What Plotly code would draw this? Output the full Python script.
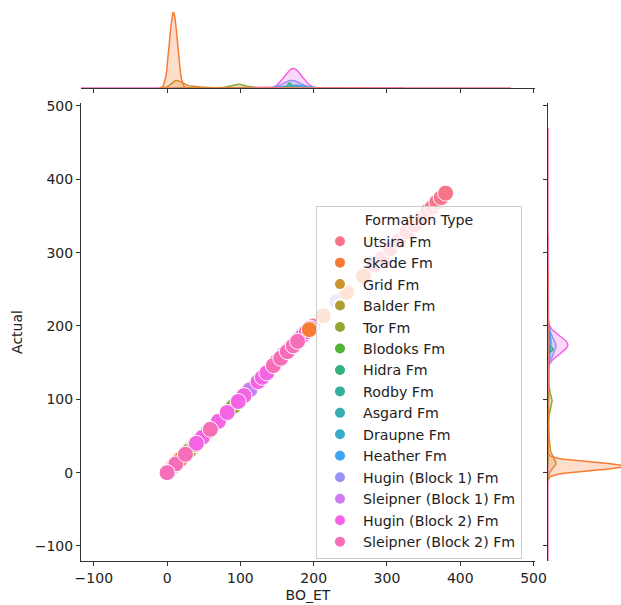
import math
import numpy as np
import plotly.graph_objects as go

# ---------------- data ----------------
formations = ["Utsira Fm", "Skade Fm", "Grid Fm", "Balder Fm", "Tor Fm",
              "Blodoks Fm", "Hidra Fm", "Rodby Fm", "Asgard Fm", "Draupne Fm",
              "Heather Fm", "Hugin (Block 1) Fm", "Sleipner (Block 1) Fm",
              "Hugin (Block 2) Fm", "Sleipner (Block 2) Fm"]

utsira_bo = [199, 282, 293, 304, 316, 327, 338, 348, 356, 362, 368, 374, 380]
utsira_actual = [200, 283, 292, 305, 316, 328, 338, 347, 357, 362, 369, 375, 381]
utsira_n = [1, 1, 1, 1, 1, 1, 1, 1, 1, 1, 1, 1, 1]

skade_bo = [0, 2, 4, 6, 8, 10, 12, 14, 16, 18, 194, 213, 245, 268]
skade_actual = [0, 2, 4, 6, 8, 10, 12, 14, 16, 18, 195, 214, 246, 268]
skade_n = [20, 52, 104, 163, 200, 190, 141, 81, 36, 13, 1, 1, 1, 1]

grid_bo = [4, 8, 12, 16, 20, 25, 30, 35, 40, 45, 50, 55, 60]
grid_actual = [4, 8, 12, 16, 20, 25, 30, 35, 40, 45, 50, 55, 60]
grid_n = [8, 30, 38, 30, 19, 13, 10, 8, 7, 5, 3, 3, 2]

balder_bo = [30, 38, 48, 59, 70]
balder_actual = [30, 38, 48, 59, 70]
balder_n = [4, 7, 8, 6, 3]

tor_bo = [82, 90, 97, 105, 113, 136, 150, 164]
tor_actual = [82, 90, 97, 105, 113, 136, 150, 164]
tor_n = [10, 25, 35, 20, 8, 2, 2, 2]

blodoks_bo = [124, 136, 150, 164, 177]
blodoks_actual = [124, 136, 151, 165, 178]
blodoks_n = [3, 4, 6, 6, 4]

hidra_bo = [164, 166, 168, 170]
hidra_actual = [165, 167, 169, 171]
hidra_n = [6, 10, 10, 6]

rodby_bo = [155, 165, 172, 180, 188]
rodby_actual = [156, 166, 173, 181, 189]
rodby_n = [3, 6, 8, 5, 3]

asgard_bo = [160, 168, 175, 182]
asgard_actual = [161, 169, 176, 183]
asgard_n = [4, 6, 6, 3]

draupne_bo = [155, 165, 172, 180, 190]
draupne_actual = [156, 166, 173, 181, 191]
draupne_n = [5, 10, 12, 8, 5]

heather_bo = [150, 158, 165, 172, 179, 186, 194]
heather_actual = [151, 159, 166, 173, 180, 187, 195]
heather_n = [6, 12, 18, 22, 18, 12, 6]

hugin1_bo = [150, 155, 160, 165, 170, 175, 180, 185, 190, 195, 232]
hugin1_actual = [152, 157, 162, 167, 172, 177, 182, 187, 192, 197, 233]
hugin1_n = [8, 16, 26, 36, 40, 36, 26, 16, 8, 3, 1]

sleipner1_bo = [150, 160, 170, 180, 113]
sleipner1_actual = [151, 161, 171, 181, 113]
sleipner1_n = [4, 6, 6, 4, 1]

hugin2_bo = [48, 70, 105, 150, 155, 160, 165, 170, 175, 180, 185, 190, 195,
             40, 82, 97, 124, 130, 136]
hugin2_actual = [48, 70, 105, 152, 157, 162, 167, 172, 177, 182, 187, 192, 197,
                 40, 82, 97, 124, 130, 136]
hugin2_n = [1, 1, 1, 14, 31, 57, 84, 101, 99, 79, 52, 27, 11,
            1, 1, 1, 1, 1, 1]

sleipner2_bo = [12, 0, 25, 59, 145, 155, 164, 172, 178]
sleipner2_actual = [12, 0, 25, 59, 146, 156, 165, 173, 179]
sleipner2_n = [1, 1, 1, 1, 1, 1, 1, 1, 1]

ticks = [-100, 0, 100, 200, 300, 400, 500]

# -------------- table built from the arrays --------------
table = [
    (utsira_bo, utsira_actual, utsira_n),
    (skade_bo, skade_actual, skade_n),
    (grid_bo, grid_actual, grid_n),
    (balder_bo, balder_actual, balder_n),
    (tor_bo, tor_actual, tor_n),
    (blodoks_bo, blodoks_actual, blodoks_n),
    (hidra_bo, hidra_actual, hidra_n),
    (rodby_bo, rodby_actual, rodby_n),
    (asgard_bo, asgard_actual, asgard_n),
    (draupne_bo, draupne_actual, draupne_n),
    (heather_bo, heather_actual, heather_n),
    (hugin1_bo, hugin1_actual, hugin1_n),
    (sleipner1_bo, sleipner1_actual, sleipner1_n),
    (hugin2_bo, hugin2_actual, hugin2_n),
    (sleipner2_bo, sleipner2_actual, sleipner2_n),
]

# -------------- seaborn "husl" palette --------------
_M = [[3.2406, -1.5372, -0.4986], [-0.9689, 1.8758, 0.0415], [0.0557, -0.2040, 1.0570]]
_refU, _refV = 0.19784, 0.46834


def _max_chroma(L, H):
    hrad = math.radians(H)
    sinH, cosH = math.sin(hrad), math.cos(hrad)
    sub1 = (L + 16) ** 3 / 1560896.0
    sub2 = sub1 if sub1 > 0.008856 else L / 903.3
    result = float("inf")
    for m1, m2, m3 in _M:
        top = (0.99915 * m1 + 1.05122 * m2 + 1.14460 * m3) * sub2
        rbottom = 0.86330 * m3 - 0.17266 * m2
        lbottom = 0.12949 * m3 - 0.38848 * m1
        bottom = (rbottom * sinH + lbottom * cosH) * sub2
        for t in (0.0, 1.0):
            C = L * (top - 1.05122 * t) / (bottom + 0.17266 * sinH * t)
            if 0.0 < C < result:
                result = C
    return result


def _husl_to_rgb(h, s, l):
    C = _max_chroma(l, h) / 100.0 * s
    U = math.cos(math.radians(h)) * C
    V = math.sin(math.radians(h)) * C
    t = (l + 16.0) / 116.0
    varY = t ** 3 if t ** 3 > 0.008856 else (116.0 * t - 16.0) / 903.3
    varU = U / (13.0 * l) + _refU
    varV = V / (13.0 * l) + _refV
    Y = varY
    X = 0.0 - (9.0 * Y * varU) / ((varU - 4.0) * varV - varU * varV)
    Z = (9.0 * Y - (15.0 * varV * Y) - (varV * X)) / (3.0 * varV)
    out = []
    for row in _M:
        c = row[0] * X + row[1] * Y + row[2] * Z
        c = 12.92 * c if c <= 0.0031308 else 1.055 * c ** (1 / 2.4) - 0.055
        out.append(min(max(c, 0.0), 1.0))
    return out


def husl_palette(n, h=0.01, s=0.9, l=0.65):
    hues = (np.linspace(0, 1, n + 1)[:-1] + h) % 1 * 359
    return [_husl_to_rgb(hh, s * 99, l * 100) for hh in hues]


palette = husl_palette(len(formations))
col = ["rgb(%d,%d,%d)" % tuple(round(v * 255) for v in c) for c in palette]
fillc = ["rgba(%d,%d,%d,0.25)" % tuple(round(v * 255) for v in c) for c in palette]

# -------------- KDE (gaussian, Scott bw, cut=3, common norm) --------------
N_total = float(sum(sum(t[2]) for t in table))


def kde(vals, counts):
    v = np.asarray(vals, float)
    c = np.asarray(counts, float)
    n = c.sum()
    mean = (v * c).sum() / n
    var = (c * (v - mean) ** 2).sum() / (n - 1)
    bw = math.sqrt(var) * n ** (-0.2)
    g = np.linspace(v.min() - 3 * bw, v.max() + 3 * bw, 200)
    d = (c[None, :] * np.exp(-0.5 * ((g[:, None] - v[None, :]) / bw) ** 2)).sum(1)
    d = d / (bw * math.sqrt(2 * math.pi)) / N_total
    return g, d


# -------------- layout geometry (pixels) --------------
W, H = 621, 605
ML, MB = 81, 44
PW, PH = W - ML, H - MB


def fx(px):
    return (px - ML) / PW


def fy(py):
    return (H - MB - py) / PH


fig = go.Figure()

top_max, right_max = 0.0, 0.0
for i in reversed(range(len(formations))):
    bo, act, n = table[i]
    gx, dx = kde(bo, n)
    gy, dy = kde(act, n)
    top_max = max(top_max, dx.max())
    right_max = max(right_max, dy.max())
    fig.add_trace(go.Scatter(x=gx, y=dx, mode="lines", fill="tozeroy",
                             fillcolor=fillc[i], line=dict(color=col[i], width=1.5),
                             xaxis="x2", yaxis="y2", showlegend=False, hoverinfo="skip"))
    fig.add_trace(go.Scatter(x=dy, y=gy, mode="lines", fill="tozerox",
                             fillcolor=fillc[i], line=dict(color=col[i], width=1.5),
                             xaxis="x3", yaxis="y3", showlegend=False, hoverinfo="skip"))

draw_order = [0, 2, 3, 4, 5, 6, 7, 8, 9, 10, 11, 12, 13, 1, 14]
for i in draw_order:
    bo, act, n = table[i]
    fig.add_trace(go.Scatter(
        x=bo, y=act, mode="markers", name=formations[i],
        legendrank=i + 1, legendgroup=formations[i],
        marker=dict(size=16, color=col[i], line=dict(color="white", width=1)),
        xaxis="x", yaxis="y"))

font_family = "DejaVu Sans"
FS = 14
LFS = 14.2
axcol = "#333333"
main_ax = dict(showgrid=False, zeroline=False, showline=True, linecolor=axcol,
               linewidth=1, ticks="outside", ticklen=4, tickwidth=1, tickcolor=axcol,
               tickvals=ticks, automargin=False,
               tickfont=dict(family=font_family, size=FS, color="#222"))

marg_dom_px = 79.0
fig.update_layout(
    width=W, height=H, autosize=False,
    margin=dict(l=ML, r=0, t=0, b=MB, pad=0, autoexpand=False),
    paper_bgcolor="white", plot_bgcolor="white",
    font=dict(family=font_family, size=FS, color="#222"),
    xaxis=dict(main_ax, domain=[fx(81), fx(535)], range=[-117.5, 502],
               anchor="y", title=dict(text="BO_ET", standoff=5,
                                      font=dict(family=font_family, size=FS))),
    yaxis=dict(main_ax, domain=[fy(561), fy(103)], range=[-120.5, 504],
               anchor="x", title=dict(text="Actual", standoff=8,
                                      font=dict(family=font_family, size=FS))),
    xaxis2=dict(main_ax, domain=[fx(81), fx(535)], range=[-117.5, 502], matches="x",
                anchor="y2", showticklabels=False),
    yaxis2=dict(domain=[fy(88), fy(88 - marg_dom_px)], range=[0, top_max * 1.05],
                anchor="x2", visible=False),
    xaxis3=dict(domain=[fx(548.3), 1.0],
                range=[0, right_max * 1.05 * (W - 548.3) / marg_dom_px],
                anchor="y3", visible=False),
    yaxis3=dict(main_ax, domain=[fy(561), fy(103)], range=[-120.5, 504], matches="y",
                anchor="x3", showticklabels=False),
    legend=dict(x=fx(316), y=fy(206), xanchor="left", yanchor="top",
                bgcolor="rgba(255,255,255,0.8)", bordercolor="#cccccc", borderwidth=1,
                font=dict(family=font_family, size=LFS, color="#222"),
                title=dict(text="Formation Type", side="top center",
                           font=dict(family=font_family, size=LFS, color="#222")),
                itemsizing="constant", itemwidth=36, tracegroupgap=0),
    showlegend=True,
)

fig.write_html("out.html", config={"displayModeBar": False},
               post_script="document.body.style.margin='0px';")
